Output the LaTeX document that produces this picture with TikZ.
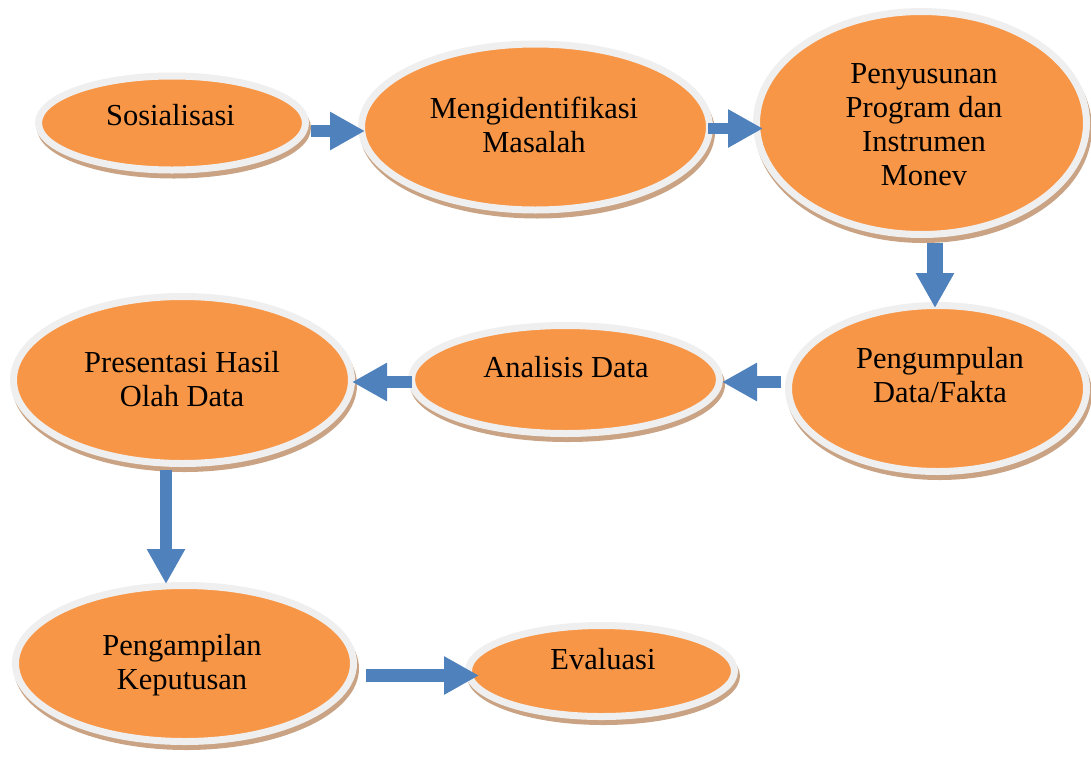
\documentclass[tikz,border=0pt]{standalone}
\usepackage{fontspec}
\setmainfont{Liberation Serif}
\usetikzlibrary{shapes.geometric,arrows.meta}
\definecolor{orng}{HTML}{F79646}
\definecolor{ringc}{HTML}{EFEFEF}
\definecolor{shad}{HTML}{C9A384}
\definecolor{blu}{HTML}{4F81BD}
\tikzset{
  bub/.style={ellipse, fill=orng, draw=ringc, line width=7pt, inner sep=0pt},
  shd/.style={ellipse, fill=shad, inner sep=0pt, xshift=2pt, yshift=-5pt},
  lbl/.style={font=\fontsize{30.5}{34}\selectfont, align=center, text=black, inner sep=0pt},
  flow/.style={draw=blu, line width=#1, -{Triangle[length=35pt,width=36pt]}}
}
\newcommand\bubble[5]{%
  \node[shd, minimum width=#4pt, minimum height=#5pt] at (#2,#3) {};
  \node[bub, minimum width=#4pt-7pt, minimum height=#5pt-7pt] (#1) at (#2,#3) {};
}
\begin{document}
\begin{tikzpicture}[x=1pt,y=-1pt]
\useasboundingbox (0,0) rectangle (1091,758);
% ellipses
\bubble{s1}{172}{123}{274}{101}
\bubble{s2}{535.5}{127}{355}{173}
\bubble{s3}{921.5}{123}{337}{230}
\bubble{s4}{937.5}{388.5}{305}{173}
\bubble{s5}{565.5}{379.5}{315}{115}
\bubble{s6}{182.5}{380}{345}{174}
\bubble{s7}{184.5}{663.5}{345}{163}
\bubble{s8}{601.5}{671}{273}{98}
% labels
\node[lbl, anchor=base] (t1) at (170.5,125) {Sosialisasi};
\node[lbl] (t2) at (534,125) {Mengidentifikasi\\Masalah};
\node[lbl] (t3) at (924,125) {Penyusunan\\Program dan\\Instrumen\\Monev};
\node[lbl] (t4) at (940,375) {Pengumpulan\\Data/Fakta};
\node[lbl, anchor=base] (t5) at (566,377) {Analisis Data};
\node[lbl] (t6) at (182,379) {Presentasi Hasil\\Olah Data};
\node[lbl] (t7) at (182,665) {Pengampilan\\Keputusan};
\node[lbl, anchor=base] (t8) at (603,669) {Evaluasi};
% arrow end points
\coordinate (a1s) at (311,131);   \coordinate (a1e) at (365,131);
\coordinate (a2s) at (708,128.5); \coordinate (a2e) at (763,128.5);
\coordinate (a3s) at (935,243);   \coordinate (a3e) at (935,308);
\coordinate (a4s) at (781,382);   \coordinate (a4e) at (722,382);
\coordinate (a5s) at (412,382);   \coordinate (a5e) at (352,382);
\coordinate (a6s) at (166,470);   \coordinate (a6e) at (166,584);
\coordinate (a7s) at (366,675.5); \coordinate (a7e) at (479,675.5);
% arrows
\draw[flow=12pt] (a1s) -- (a1e);
\draw[flow=11pt] (a2s) -- (a2e);
\draw[flow=16pt] (a3s) -- (a3e);
\draw[flow=12pt] (a4s) -- (a4e);
\draw[flow=12pt] (a5s) -- (a5e);
\draw[flow=12pt] (a6s) -- (a6e);
\draw[flow=13pt] (a7s) -- (a7e);
\end{tikzpicture}
\end{document}
